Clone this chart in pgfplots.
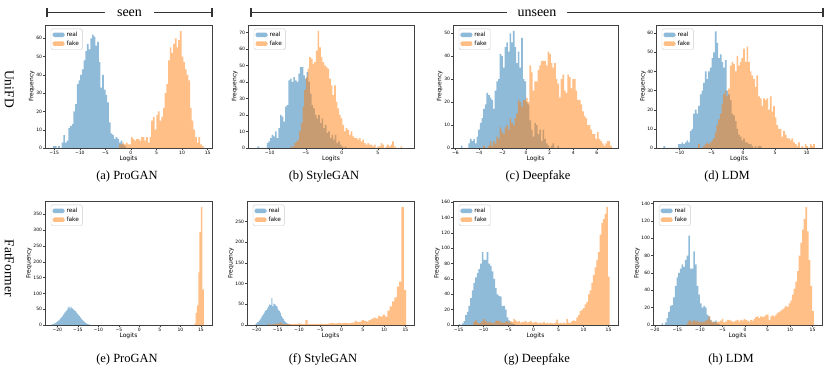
\documentclass[border=0pt]{standalone}
\usepackage{fontspec}
\setmainfont{Liberation Serif}
\newfontfamily\dejavu{DejaVu Sans}
\usepackage{pgfplots}
\pgfplotsset{compat=1.18}
\definecolor{c0}{RGB}{31,119,180}
\definecolor{c1}{RGB}{255,127,14}
\newcommand\tickfont{\dejavu\fontsize{4.5}{5}\selectfont}
\newcommand\labfont{\dejavu\fontsize{6}{7}\selectfont}
\newcommand\legfont{\dejavu\fontsize{5.8}{6.5}\selectfont}
\newcommand\capfont{\fontsize{12.5}{14}\selectfont}

\pgfplotsset{
  panel/.style={
    scale only axis, anchor=north west,
    axis line style={black!75, line width=0.5pt},
    tick align=outside, xtick pos=left, ytick pos=left,
    major tick length=1.8pt, tick style={black!75, line width=0.4pt},
    ticklabel style={font=\tickfont, inner sep=1pt},
    yticklabel style={/pgf/number format/assume math mode=true},
    xlabel={Logits}, ylabel={Frequency},
    label style={font=\labfont},
    xlabel style={yshift=3pt}, ylabel style={yshift=-3pt},
    ymin=0,
    legend style={at={(0.035,0.97)}, anchor=north west, font=\legfont,
      draw=black!20, rounded corners=1.5pt, inner xsep=1.5pt, inner ysep=1pt,
      row sep=-1pt},
    legend cell align=left,
  },
  real/.style={ybar interval, fill=c0, fill opacity=0.5, draw=none,
    legend image code/.code={\fill[c0, fill opacity=0.5] (0pt,-2.2pt) rectangle (12pt,2.3pt);}},
  fake/.style={ybar interval, fill=c1, fill opacity=0.5, draw=none,
    legend image code/.code={\fill[c1, fill opacity=0.5] (0pt,-2.2pt) rectangle (12pt,2.3pt);}},
}

\begin{document}
\begin{tikzpicture}
\useasboundingbox (0,0) rectangle (830pt,-366pt);

% ---------- brackets and row labels
\draw[line width=1.1pt, black!80] (47pt,-12.5pt) -- (212pt,-12.5pt);
\draw[line width=1.1pt, black!80] (47pt,-8.3pt) -- (47pt,-16.7pt);
\draw[line width=1.1pt, black!80] (212pt,-8.3pt) -- (212pt,-16.7pt);
\node[fill=white, inner xsep=12pt, inner ysep=1pt, anchor=base, font=\fontsize{14}{16}\selectfont] at (129.5pt,-16.5pt) {seen};
\draw[line width=1.1pt, black!80] (251pt,-12.5pt) -- (823pt,-12.5pt);
\draw[line width=1.1pt, black!80] (251pt,-8.3pt) -- (251pt,-16.7pt);
\draw[line width=1.1pt, black!80] (823pt,-8.3pt) -- (823pt,-16.7pt);
\node[fill=white, inner xsep=11pt, inner ysep=1pt, anchor=base, font=\fontsize{14}{16}\selectfont] at (537pt,-16.5pt) {unseen};
\node[rotate=-90, font=\fontsize{13.5}{15}\selectfont] at (9.3pt,-89pt) {UniFD};
\node[rotate=-90, font=\fontsize{13.5}{15}\selectfont] at (9.3pt,-268pt) {FatFormer};

% ---------- (a) UniFD ProGAN
\begin{axis}[panel, at={(45pt,-25pt)}, width=167pt, height=123pt,
  xmin=-16.8, xmax=15.85, ymax=67.3,
  xtick={-15,-10,-5,0,5,10,15}, xticklabels={−15,−10,−5,0,5,10,15},
  ytick={0,10,...,60}]
\addplot[real] coordinates {(-15.2,1) (-14.87,1) (-14.54,0) (-14.21,1) (-13.88,0) (-13.55,3) (-13.22,7) (-12.89,3) (-12.56,4) (-12.23,11) (-11.9,12) (-11.57,13) (-11.24,20) (-10.91,24) (-10.58,35) (-10.25,37) (-9.92,40) (-9.59,43) (-9.26,48) (-8.93,53) (-8.6,57) (-8.27,54) (-7.94,60) (-7.61,62) (-7.28,61) (-6.95,56) (-6.62,58) (-6.29,47) (-5.96,33) (-5.63,40) (-5.3,32) (-4.97,29) (-4.64,25) (-4.31,14) (-3.98,8) (-3.65,7) (-3.32,5) (-2.99,6) (-2.66,5) (-2.33,3) (-2.0,4) (-1.67,2) (-1.34,1) (-1.01,0)};
\addplot[fake] coordinates {(-2.3,2) (-1.97,2) (-1.64,3) (-1.31,2) (-0.98,3) (-0.65,2) (-0.32,2) (0.01,6) (0.34,5) (0.67,4) (1.0,5) (1.33,5) (1.66,4) (1.99,6) (2.32,6) (2.65,4) (2.98,6) (3.31,3) (3.64,6) (3.97,15) (4.3,17) (4.63,10) (4.96,18) (5.29,20) (5.62,15) (5.95,17) (6.28,22) (6.61,30) (6.94,35) (7.27,48) (7.6,55) (7.93,52) (8.26,57) (8.59,60) (8.92,55) (9.25,59) (9.58,64) (9.91,50) (10.24,47) (10.57,43) (10.9,40) (11.23,37) (11.56,22) (11.89,15) (12.22,10) (12.55,6) (12.88,3) (13.21,6) (13.54,2) (13.87,1) (14.2,0)};
\legend{real,fake}
\end{axis}

% ---------- (b) UniFD StyleGAN
\begin{axis}[panel, at={(248pt,-25pt)}, width=166pt, height=123pt,
  xmin=-13.0, xmax=10.0, ymax=74.5,
  xtick={-10,-5,0,5}, xticklabels={−10,−5,0,5},
  ytick={0,10,...,70}]
\addplot[real] coordinates {(-11.70,1) (-11.47,0) (-10.40,3) (-10.17,4) (-9.94,6) (-9.71,8) (-9.48,7) (-9.25,10) (-9.02,6) (-8.79,12) (-8.56,20) (-8.33,19) (-8.10,16) (-7.87,25) (-7.64,26) (-7.41,41) (-7.18,42) (-6.95,40) (-6.72,43) (-6.49,41) (-6.26,40) (-6.03,45) (-5.80,49) (-5.57,49) (-5.34,44) (-5.11,42) (-4.88,46) (-4.65,40) (-4.42,33) (-4.19,26) (-3.96,24) (-3.73,20) (-3.50,18) (-3.27,20) (-3.04,15) (-2.81,18) (-2.58,12) (-2.35,14) (-2.12,9) (-1.89,10) (-1.66,6) (-1.43,8) (-1.20,5) (-0.97,8) (-0.74,3) (-0.51,4) (-0.28,2) (-0.05,1) (0.18,0) (0.41,1) (0.64,0)};
\addplot[fake] coordinates {(-7.05,1) (-6.82,1) (-6.59,3) (-6.36,4) (-6.13,5) (-5.90,10) (-5.67,15) (-5.44,25) (-5.21,35) (-4.98,43) (-4.75,48) (-4.52,55) (-4.29,54) (-4.06,51) (-3.83,52) (-3.60,59) (-3.37,71) (-3.14,61) (-2.91,55) (-2.68,52) (-2.45,50) (-2.22,49) (-1.99,48) (-1.76,42) (-1.53,38) (-1.30,32) (-1.07,38) (-0.84,28) (-0.61,24) (-0.38,20) (-0.15,18) (0.08,14) (0.31,10) (0.54,12) (0.77,11) (1.00,8) (1.23,10) (1.46,7) (1.69,6) (1.92,6) (2.15,5) (2.38,6) (2.61,4) (2.84,5) (3.07,3) (3.30,2) (3.53,3) (3.76,2) (3.99,2) (4.22,1) (4.45,2) (4.68,0) (4.91,1) (5.14,1) (5.37,3) (5.60,2) (5.83,0) (6.06,1) (6.29,2) (6.52,1) (6.75,2) (6.98,4) (7.21,1) (7.44,0) (7.67,0) (7.90,0) (8.13,1) (8.36,0)};
\legend{real,fake}
\end{axis}

% ---------- (c) UniFD Deepfake
\begin{axis}[panel, at={(453pt,-25pt)}, width=165pt, height=123pt,
  xmin=-6.2, xmax=7.8, ymax=53.6,
  xtick={-6,-4,-2,0,2,4,6}, xticklabels={−6,−4,−2,0,2,4,6},
  ytick={0,10,...,50}]
\addplot[real] coordinates {(-5.54,1) (-5.40,0) (-4.90,2) (-4.76,4) (-4.62,3) (-4.48,4) (-4.34,2) (-4.20,5) (-4.06,8) (-3.92,11) (-3.78,13) (-3.64,17) (-3.50,19) (-3.36,24) (-3.22,23) (-3.08,22) (-2.94,21) (-2.80,17) (-2.66,25) (-2.52,29) (-2.38,30) (-2.24,41) (-2.10,40) (-1.96,35) (-1.82,44) (-1.68,46) (-1.54,42) (-1.40,50) (-1.26,46) (-1.12,51) (-0.98,44) (-0.84,37) (-0.70,42) (-0.56,35) (-0.42,48) (-0.28,30) (-0.14,29) (0.00,20) (0.14,19) (0.28,12) (0.42,8) (0.56,5) (0.70,11) (0.84,10) (0.98,6) (1.12,8) (1.26,3) (1.40,8) (1.54,4) (1.68,2) (1.82,1) (1.96,0) (2.10,1) (2.24,2) (2.38,0) (2.52,0) (2.66,1) (2.80,0)};
\addplot[fake] coordinates {(-3.64,1) (-3.50,0) (-3.36,0) (-3.22,1) (-3.08,3) (-2.94,1) (-2.80,3) (-2.66,2) (-2.52,5) (-2.38,4) (-2.24,9) (-2.10,7) (-1.96,6) (-1.82,9) (-1.68,10) (-1.54,8) (-1.40,13) (-1.26,11) (-1.12,10) (-0.98,13) (-0.84,15) (-0.70,21) (-0.56,20) (-0.42,18) (-0.28,21) (-0.14,21) (0.00,22) (0.14,20) (0.28,36) (0.42,33) (0.56,25) (0.70,29) (0.84,29) (0.98,34) (1.12,36) (1.26,38) (1.40,38) (1.54,38) (1.68,36) (1.82,42) (1.96,41) (2.10,37) (2.24,35) (2.38,37) (2.52,30) (2.66,28) (2.80,22) (2.94,30) (3.08,32) (3.22,25) (3.36,24) (3.50,32) (3.64,31) (3.78,26) (3.92,30) (4.06,30) (4.20,25) (4.34,21) (4.48,21) (4.62,19) (4.76,16) (4.90,14) (5.04,13) (5.18,10) (5.32,10) (5.46,8) (5.60,6) (5.74,6) (5.88,4) (6.02,7) (6.16,4) (6.30,3) (6.44,2) (6.58,1) (6.72,2) (6.86,3) (7.00,3) (7.14,1) (7.28,0)};
\legend{real,fake}
\end{axis}

% ---------- (d) UniFD LDM
\begin{axis}[panel, at={(656pt,-25pt)}, width=166pt, height=123pt,
  xmin=-13.7, xmax=12.4, ymax=64.3,
  xtick={-10,-5,0,5,10}, xticklabels={−10,−5,0,5,10},
  ytick={0,10,...,60}]
\addplot[real] coordinates {(-12.54,1) (-12.28,0) (-10.21,2) (-9.95,2) (-9.69,3) (-9.42,2) (-9.16,3) (-8.90,4) (-8.64,3) (-8.38,9) (-8.11,10) (-7.85,18) (-7.59,20) (-7.33,18) (-7.07,22) (-6.80,28) (-6.54,30) (-6.28,34) (-6.02,40) (-5.76,36) (-5.49,40) (-5.23,42) (-4.97,47) (-4.71,50) (-4.45,61) (-4.18,55) (-3.92,47) (-3.66,49) (-3.40,45) (-3.14,42) (-2.87,46) (-2.61,30) (-2.35,28) (-2.09,25) (-1.83,18) (-1.56,17) (-1.30,14) (-1.04,10) (-0.78,7) (-0.52,6) (-0.25,4) (0.01,5) (0.27,3) (0.53,3) (0.79,2) (1.06,2) (1.32,1) (1.58,0) (1.84,1) (2.10,0) (2.37,1) (2.63,1) (2.89,0)};
\addplot[fake] coordinates {(-7.07,2) (-6.81,0) (-6.55,0) (-6.28,1) (-6.02,2) (-5.76,3) (-5.50,2) (-5.24,3) (-4.97,4) (-4.71,5) (-4.45,8) (-4.19,12) (-3.93,15) (-3.66,18) (-3.40,23) (-3.14,28) (-2.88,30) (-2.62,27) (-2.35,31) (-2.09,43) (-1.83,45) (-1.57,44) (-1.31,40) (-1.04,48) (-0.78,43) (-0.52,45) (-0.26,47) (0.00,52) (0.27,45) (0.53,53) (0.79,45) (1.05,40) (1.31,38) (1.58,36) (1.84,32) (2.10,38) (2.36,27) (2.62,26) (2.89,22) (3.15,26) (3.41,25) (3.67,26) (3.93,20) (4.20,27) (4.46,19) (4.72,22) (4.98,16) (5.24,12) (5.51,10) (5.77,10) (6.03,6) (6.29,9) (6.55,7) (6.82,5) (7.08,5) (7.34,4) (7.60,5) (7.86,3) (8.13,2) (8.39,1) (8.65,3) (8.91,0) (9.17,1) (9.44,0) (9.70,2) (9.96,1) (10.22,0) (10.48,2) (10.75,1) (11.01,2) (11.27,0)};
\legend{real,fake}
\end{axis}

% ---------- (e) FatFormer ProGAN
\begin{axis}[panel, at={(45pt,-201pt)}, width=167pt, height=124pt,
  xmin=-23.0, xmax=17.7, ymax=392,
  xtick={-20,-15,-10,-5,0,5,10,15}, xticklabels={−20,−15,−10,−5,0,5,10,15},
  ytick={0,50,...,350}]
\addplot[real] coordinates {(-21.5,1) (-21.25,2) (-21.0,3) (-20.75,5) (-20.5,7) (-20.25,9) (-20.0,12) (-19.75,15) (-19.5,18) (-19.25,22) (-19.0,26) (-18.75,30) (-18.5,34) (-18.25,40) (-18.0,44) (-17.75,48) (-17.5,55) (-17.25,58) (-17.0,52) (-16.75,57) (-16.5,53) (-16.25,50) (-16.0,47) (-15.75,44) (-15.5,40) (-15.25,36) (-15.0,32) (-14.75,28) (-14.5,24) (-14.25,20) (-14.0,16) (-13.75,13) (-13.5,10) (-13.25,7) (-13.0,5) (-12.75,3) (-12.5,2) (-12.25,1) (-12.0,0)};
\addplot[fake] coordinates {(13.45,5) (13.7,38) (14.0,62) (14.35,166) (14.65,294) (15.0,373) (15.35,113) (15.7,0)};
\legend{real,fake}
\end{axis}

% ---------- (f) FatFormer StyleGAN
\begin{axis}[panel, at={(247pt,-201pt)}, width=167pt, height=124pt,
  xmin=-22.2, xmax=17.0, ymax=300,
  xtick={-20,-15,-10,-5,0,5,10,15}, xticklabels={−20,−15,−10,−5,0,5,10,15},
  ytick={0,50,...,250}]
\addplot[real] coordinates {(-20.25,2) (-20.0,5) (-19.75,7) (-19.5,10) (-19.25,13) (-19.0,17) (-18.75,22) (-18.5,26) (-18.25,30) (-18.0,35) (-17.75,36) (-17.5,40) (-17.25,45) (-17.0,50) (-16.75,48) (-16.5,65) (-16.25,45) (-16.0,52) (-15.75,50) (-15.5,46) (-15.25,45) (-15.0,38) (-14.75,34) (-14.5,30) (-14.25,22) (-14.0,18) (-13.75,14) (-13.5,10) (-13.25,7) (-13.0,5) (-12.75,3) (-12.5,2) (-12.25,1) (-12.0,0)};
\addplot[fake] coordinates {(-17.30,2) (-16.75,1) (-16.20,2) (-15.65,3) (-15.10,4) (-14.55,6) (-14.00,3) (-13.45,2) (-12.90,2) (-12.35,3) (-11.80,2) (-11.25,3) (-10.70,2) (-10.15,4) (-9.60,2) (-9.05,3) (-8.50,12) (-7.95,3) (-7.40,2) (-6.85,3) (-6.30,2) (-5.75,3) (-5.20,3) (-4.65,2) (-4.10,3) (-3.55,3) (-3.00,4) (-2.45,5) (-1.90,4) (-1.35,4) (-0.80,5) (-0.25,4) (0.30,5) (0.85,5) (1.40,4) (1.95,5) (2.50,6) (3.05,10) (3.60,7) (4.15,8) (4.70,12) (5.25,10) (5.80,8) (6.35,12) (6.90,15) (7.45,18) (8.00,16) (8.55,22) (9.10,20) (9.65,25) (10.20,20) (10.75,35) (11.30,45) (11.85,57) (12.40,67) (12.95,93) (13.50,105) (14.05,285) (14.60,85) (15.15,0)};
\legend{real,fake}
\end{axis}

% ---------- (g) FatFormer Deepfake
\begin{axis}[panel, at={(453pt,-201pt)}, width=165pt, height=124pt,
  xmin=-16.1, xmax=16.9, ymax=161.7,
  xtick={-15,-10,-5,0,5,10,15}, xticklabels={−15,−10,−5,0,5,10,15},
  ytick={0,20,...,160}]
\addplot[real] coordinates {(-15.00,1) (-14.67,0) (-14.34,2) (-14.00,5) (-13.67,13) (-13.34,17) (-13.01,25) (-12.68,35) (-12.34,45) (-12.01,55) (-11.68,62) (-11.35,68) (-11.02,73) (-10.68,80) (-10.35,95) (-10.02,85) (-9.69,85) (-9.36,95) (-9.02,80) (-8.69,77) (-8.36,70) (-8.03,60) (-7.70,48) (-7.36,40) (-7.03,38) (-6.70,37) (-6.37,25) (-6.04,25) (-5.70,20) (-5.37,10) (-5.04,6) (-4.71,3) (-4.38,2) (-4.04,1) (-3.71,0)};
\addplot[fake] coordinates {(-12.01,4) (-11.68,6) (-11.35,3) (-11.01,2) (-10.68,3) (-10.35,5) (-10.02,8) (-9.69,5) (-9.35,3) (-9.02,4) (-8.69,3) (-8.36,3) (-8.03,2) (-7.69,5) (-7.36,6) (-7.03,5) (-6.70,4) (-6.37,3) (-6.03,3) (-5.70,4) (-5.37,5) (-5.04,3) (-4.71,5) (-4.37,4) (-4.04,8) (-3.71,6) (-3.38,4) (-3.05,5) (-2.71,3) (-2.38,4) (-2.05,4) (-1.72,5) (-1.39,3) (-1.05,4) (-0.72,5) (-0.39,3) (-0.06,3) (0.27,4) (0.61,3) (0.94,2) (1.27,3) (1.60,2) (1.93,4) (2.27,2) (2.60,3) (2.93,2) (3.26,3) (3.59,2) (3.93,2) (4.26,3) (4.59,7) (4.92,2) (5.25,3) (5.59,2) (5.92,3) (6.25,2) (6.58,8) (6.91,3) (7.25,3) (7.58,5) (7.91,6) (8.24,5) (8.57,10) (8.91,13) (9.24,18) (9.57,20) (9.90,22) (10.23,27) (10.57,30) (10.90,40) (11.23,45) (11.56,55) (11.89,65) (12.23,75) (12.56,85) (12.89,95) (13.22,118) (13.55,133) (13.89,138) (14.22,145) (14.55,154) (14.88,63) (15.21,0)};
\legend{real,fake}
\end{axis}

% ---------- (h) FatFormer LDM
\begin{axis}[panel, at={(653pt,-201pt)}, width=169pt, height=124pt,
  xmin=-20.4, xmax=17.1, ymax=143,
  xtick={-20,-15,-10,-5,0,5,10,15}, xticklabels={−20,−15,−10,−5,0,5,10,15},
  ytick={0,20,...,140}]
\addplot[real] coordinates {(-18.51,2) (-18.14,0) (-17.77,3) (-17.40,8) (-17.03,15) (-16.66,22) (-16.28,23) (-15.91,32) (-15.54,45) (-15.17,55) (-14.80,60) (-14.43,65) (-14.06,70) (-13.69,67) (-13.32,75) (-12.95,80) (-12.57,103) (-12.20,65) (-11.83,65) (-11.46,85) (-11.09,70) (-10.72,45) (-10.35,35) (-9.98,25) (-9.61,20) (-9.24,22) (-8.86,20) (-8.49,12) (-8.12,10) (-7.75,6) (-7.38,3) (-7.01,4) (-6.64,5) (-6.27,2) (-5.90,1) (-5.52,0)};
\addplot[fake] coordinates {(-12.93,2) (-12.56,5) (-12.19,5) (-11.82,3) (-11.45,6) (-11.08,4) (-10.70,5) (-10.33,3) (-9.96,4) (-9.59,3) (-9.22,4) (-8.85,5) (-8.48,6) (-8.11,10) (-7.74,5) (-7.37,4) (-6.99,3) (-6.62,3) (-6.25,4) (-5.88,4) (-5.51,5) (-5.14,7) (-4.77,3) (-4.40,4) (-4.03,6) (-3.66,6) (-3.28,5) (-2.91,4) (-2.54,4) (-2.17,5) (-1.80,6) (-1.43,4) (-1.06,6) (-0.69,5) (-0.32,7) (0.06,6) (0.43,5) (0.80,4) (1.17,6) (1.54,5) (1.91,7) (2.28,9) (2.65,10) (3.02,8) (3.39,10) (3.77,9) (4.14,10) (4.51,12) (4.88,12) (5.25,6) (5.62,10) (5.99,11) (6.36,10) (6.73,12) (7.10,14) (7.48,15) (7.85,17) (8.22,18) (8.59,20) (8.96,22) (9.33,21) (9.70,25) (10.07,28) (10.44,35) (10.81,42) (11.19,50) (11.56,62) (11.93,80) (12.30,95) (12.67,110) (13.04,122) (13.41,136) (13.78,108) (14.15,75) (14.52,45) (14.89,16) (15.27,0)};
\legend{real,fake}
\end{axis}

% ---------- captions
\node[anchor=base, font=\capfont] at (127pt,-180pt) {(a) ProGAN};
\node[anchor=base, font=\capfont] at (324pt,-180pt) {(b) StyleGAN};
\node[anchor=base, font=\capfont] at (538pt,-180pt) {(c) Deepfake};
\node[anchor=base, font=\capfont] at (727pt,-180pt) {(d) LDM};
\node[anchor=base, font=\capfont] at (127pt,-362pt) {(e) ProGAN};
\node[anchor=base, font=\capfont] at (323pt,-362pt) {(f) StyleGAN};
\node[anchor=base, font=\capfont] at (537pt,-362pt) {(g) Deepfake};
\node[anchor=base, font=\capfont] at (731pt,-362pt) {(h) LDM};
\end{tikzpicture}
\end{document}
